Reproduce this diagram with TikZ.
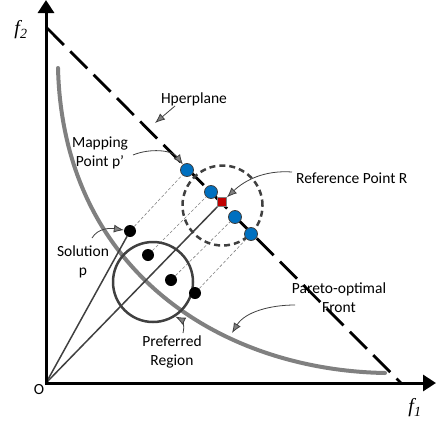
\documentclass[tikz,border=0pt]{standalone}
\usepackage{fontspec}
\setmainfont{Carlito}
\newfontfamily\tms{Liberation Serif}
\usetikzlibrary{arrows.meta, backgrounds}
\definecolor{dotblue}{HTML}{0070C0}
\definecolor{refred}{HTML}{C00000}
\definecolor{frontgray}{HTML}{808080}
\definecolor{linegray}{HTML}{404040}
\tikzset{
  axis/.style={line width=3pt, {Triangle[length=13pt,width=16pt]}-{Triangle[length=13pt,width=16pt]}},
  hyper/.style={line width=2.8pt, dash pattern=on 24pt off 9pt},
  front/.style={line width=4pt, frontgray, line cap=round},
  bluedot/.style={circle, fill=dotblue, draw=linegray, line width=0.8pt, minimum size=13pt, inner sep=0pt},
  blackdot/.style={circle, fill=black, minimum size=12pt, inner sep=0pt},
  refsq/.style={rectangle, fill=refred, draw=gray, line width=0.8pt, minimum size=9pt, inner sep=0pt},
  zone/.style={circle, draw=linegray, line width=2.5pt, minimum size=80pt, inner sep=0pt},
  proj/.style={gray, line width=0.6pt, dash pattern=on 3pt off 2pt},
  ray/.style={linegray, line width=1.5pt},
  callout/.style={linegray, line width=0.8pt, -{Latex[length=10pt,width=8pt,fill=gray]}},
  lbl/.style={font=\fontsize{15.5}{19}\selectfont, align=center, inner sep=0pt},
  axlbl/.style={font=\fontsize{20}{24}\tms, inner sep=0pt},
}
\begin{document}
\begin{tikzpicture}[x=1pt,y=-1pt]
  \useasboundingbox (0,0) rectangle (436,423);
  \coordinate (O) at (46,383);
  \coordinate (hp1) at (47,28);
  \coordinate (hp2) at (401,383);
  % axes
  \draw[axis] (46,0) -- (O) -- (436,383);
  \node[axlbl] (f2) at (21,30) {\itshape f\textsubscript{2}};
  \node[axlbl] (f1) at (415,408) {\itshape f\textsubscript{1}};
  \node[lbl] (olbl) at (39,390) {O};
  % regions
  \node[zone] (pref) at (153,282) {};
  \node[zone, dash pattern=on 6pt off 4pt] (refzone) at (222.5,205.5) {};
  % solutions and their mappings
  \node[blackdot] (s1) at (130,231) {};
  \node[blackdot] (s2) at (148,255) {};
  \node[blackdot] (s3) at (171,280) {};
  \node[blackdot] (s4) at (195,293) {};
  \node[bluedot] (m1) at (187,170) {};
  \node[bluedot] (m2) at (211,192) {};
  \node[bluedot] (m3) at (235,217) {};
  \node[bluedot] (m4) at (251,234) {};
  \node[refsq] (R) at (222,202) {};
  \begin{scope}[on background layer]
    \draw[front] (58,68) .. controls (63,270) and (220,370) .. (385,373);
    \draw[hyper] (hp1) -- (hp2);
    \foreach \i in {1,...,4}
      \draw[proj] (s\i) -- (m\i);
    \draw[ray] (O) -- (s1);
    \draw[ray] (O) -- (R);
  \end{scope}
  % labels
  \node[lbl] (hplbl) at (194,99) {Hperplane};
  \node[lbl] (maplbl) at (100,153) {Mapping\\Point p’};
  \node[lbl, anchor=west] (reflbl) at (296,178) {Reference Point R};
  \node[lbl] (sollbl) at (83,262) {Solution\\p};
  \node[lbl] (preflbl) at (172,352) {Preferred\\Region};
  \node[lbl] (parlbl) at (339,298) {Pareto-optimal\\Front};
  % callouts
  \coordinate (hpstart) at (175,106);
  \coordinate (hptip) at (155,123);
  \coordinate (mapstart) at (133,155);
  \coordinate (refstart) at (292,172);
  \coordinate (solstart) at (92,238);
  \coordinate (prefstart) at (183,333);
  \coordinate (parstart) at (295,305);
  \coordinate (partip) at (232,333);
  \draw[callout] (hpstart) -- (hptip);
  \draw[callout] (mapstart) .. controls (150,148) and (172,150) .. (m1);
  \draw[callout] (refstart) .. controls (265,170) and (245,180) .. (R);
  \draw[callout] (solstart) .. controls (98,228) and (110,228) .. (s1);
  \draw[callout] (prefstart) .. controls (185,325) and (182,320) .. (pref.303);
  \draw[callout] (parstart) .. controls (270,305) and (245,312) .. (partip);
\end{tikzpicture}
\end{document}
